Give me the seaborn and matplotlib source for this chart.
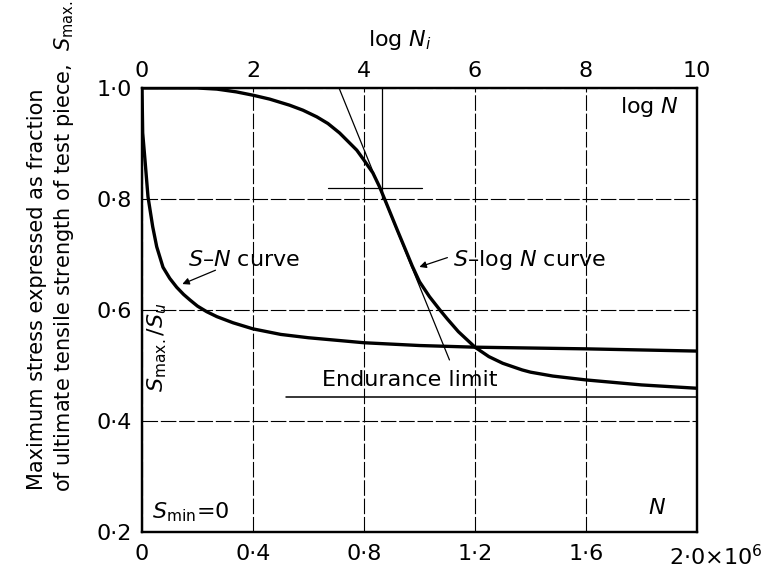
import matplotlib
matplotlib.use("Agg")
import matplotlib.pyplot as plt
from matplotlib.transforms import ScaledTranslation
import seaborn as sns
import pandas as pd

# ---- data ----
# S-N curve: N (cycles) vs S_max/S_u
sn_N = [0, 2.5e3, 10.8e3, 21.6e3, 38.6e3, 53e3, 75.7e3, 100e3, 125e3, 150e3,
        173e3, 200e3, 233e3, 270e3, 328e3, 400e3, 500e3, 600e3, 800e3, 1.0e6,
        1.2e6, 1.6e6, 2.0e6]
sn_S = [1.0, 0.919, 0.870, 0.804, 0.750, 0.714, 0.677, 0.657, 0.641, 0.628,
        0.618, 0.607, 0.597, 0.588, 0.577, 0.566, 0.556, 0.550, 0.541, 0.536,
        0.533, 0.530, 0.526]

# S-log N curve: log N vs S_max/S_u
sl_logN = [0, 1.0, 1.35, 1.7, 2.0, 2.3, 2.66, 2.9, 3.15, 3.35, 3.56, 3.7, 3.87,
           4.0, 4.16, 4.28, 4.4, 4.6, 4.75, 4.87, 5.0, 5.18, 5.36, 5.5, 5.7, 6.0,
           6.25, 6.5, 6.85, 7.0, 7.4, 8.0, 9.0, 10.0]
sl_S = [1.0, 1.0, 0.998, 0.993, 0.987, 0.980, 0.969, 0.960, 0.948, 0.936, 0.919,
        0.905, 0.888, 0.870, 0.847, 0.822, 0.793, 0.744, 0.708, 0.679, 0.651,
        0.624, 0.601, 0.584, 0.561, 0.533, 0.516, 0.504, 0.492, 0.488, 0.481,
        0.474, 0.465, 0.459]

# construction lines (log N axis)
tangent_logN = [3.55, 5.54]
tangent_S = [1.0, 0.510]
knee_h_logN = [3.35, 5.05]
knee_h_S = [0.82, 0.82]
knee_v_logN = [4.32, 4.32]
knee_v_S = [1.0, 0.80]
endurance_logN = [2.6, 10.0]
endurance_S = [0.443, 0.443]

# tick labels
y_ticks = [0.2, 0.4, 0.6, 0.8, 1.0]
y_labels = ["0·2", "0·4", "0·6", "0·8", "1·0"]
n_ticks = [0, 0.4e6, 0.8e6, 1.2e6, 1.6e6, 2.0e6]
n_labels = ["0", "0·4", "0·8", "1·2", "1·6", "2·0×10$^6$"]
log_ticks = [0, 2, 4, 6, 8, 10]
log_labels = ["0", "2", "4", "6", "8", "10"]

sn_df = pd.DataFrame({"N": sn_N, "S": sn_S})
sl_df = pd.DataFrame({"logN": sl_logN, "S": sl_S})

sns.set_theme(style="white")
plt.rcParams["font.family"] = ["DejaVu Sans"]
plt.rcParams["mathtext.fontset"] = "dejavusans"
plt.rcParams["text.color"] = "black"
plt.rcParams["axes.labelcolor"] = "black"
plt.rcParams["xtick.color"] = "black"
plt.rcParams["ytick.color"] = "black"

fig = plt.figure(figsize=(7.66, 5.69), dpi=100)
ax = fig.add_axes([142 / 766, 1 - 532 / 569, 555 / 766, 444 / 569])
ax2 = ax.twiny()

ax.set_xlim(0, 2.0e6)
ax.set_ylim(0.2, 1.0)
ax2.set_xlim(0, 10)

# grid
ax.set_xticks(n_ticks)
ax.set_xticklabels(n_labels, fontsize=16, color="black")
ax.set_yticks(y_ticks)
ax.set_yticklabels(y_labels, fontsize=16, color="black")
ax.grid(True, color="black", linestyle=(0, (14, 2.5)), linewidth=0.8)
ax.tick_params(axis="both", length=0, colors="black")
ax.tick_params(axis="x", pad=9)
ax.tick_params(axis="y", pad=7)

ax2.set_xticks(log_ticks)
ax2.set_xticklabels(log_labels, fontsize=16, color="black")
ax2.tick_params(axis="x", length=0, pad=5, colors="black")
ax2.grid(False)

for a in (ax, ax2):
    for s in a.spines.values():
        s.set_color("black")
        s.set_linewidth(1.6)

# curves
sns.lineplot(data=sn_df, x="N", y="S", ax=ax, color="black", linewidth=2.4)
sns.lineplot(data=sl_df, x="logN", y="S", ax=ax2, color="black", linewidth=2.4)

# construction lines
ax2.plot(tangent_logN, tangent_S, color="black", linewidth=0.9)
ax2.plot(knee_h_logN, knee_h_S, color="black", linewidth=0.9)
ax2.plot(knee_v_logN, knee_v_S, color="black", linewidth=0.9)
ax2.plot(endurance_logN, endurance_S, color="black", linewidth=1.1)

ax.set_xlabel("")
ax.set_ylabel("")
ax2.set_xlabel(r"log $N_i$", fontsize=16, color="black")
ax2.xaxis.set_label_coords(0.465, 1.095)

# shift the last bottom label to the right like the reference
last = ax.get_xticklabels()[-1]
last.set_transform(last.get_transform() + ScaledTranslation(0.19, 0, fig.dpi_scale_trans))

# annotations
T = ax.transAxes
ax.text(0.083, 0.613, r"$S$–$N$ curve", transform=T, fontsize=16, ha="left", va="center")
ax.annotate("", xy=(0.068, 0.556), xytext=(0.137, 0.592), xycoords=T, textcoords=T,
            arrowprops=dict(arrowstyle="-|>", color="black", lw=0.9, mutation_scale=10))
ax.text(0.560, 0.613, r"$S$–log $N$ curve", transform=T, fontsize=16, ha="left", va="center")
ax.annotate("", xy=(0.495, 0.595), xytext=(0.555, 0.620), xycoords=T, textcoords=T,
            arrowprops=dict(arrowstyle="-|>", color="black", lw=0.9, mutation_scale=10))
ax.text(0.324, 0.342, "Endurance limit", transform=T, fontsize=16, ha="left", va="center")
ax.text(0.915, 0.957, r"log $N$", transform=T, fontsize=16, ha="center", va="center")
ax.text(0.928, 0.054, r"$N$", transform=T, fontsize=16, ha="center", va="center")
ax.text(0.018, 0.045, r"$S_{\rm min}$=0", transform=T, fontsize=16, ha="left", va="center")
ax.text(0.027, 0.417, r"$S_{\rm max.}/S_u$", transform=T, fontsize=16, ha="center",
        va="center", rotation=90)

# y label (two lines)
fig.text(37 / 766, 1 - 490 / 569, "Maximum stress expressed as fraction",
         rotation=90, ha="center", va="bottom", fontsize=15)
fig.text(64 / 766, 1 - 492 / 569, r"of ultimate tensile strength of test piece,  $S_{\rm max.}$",
         rotation=90, ha="center", va="bottom", fontsize=15)

fig.savefig("out.png", dpi=100)
